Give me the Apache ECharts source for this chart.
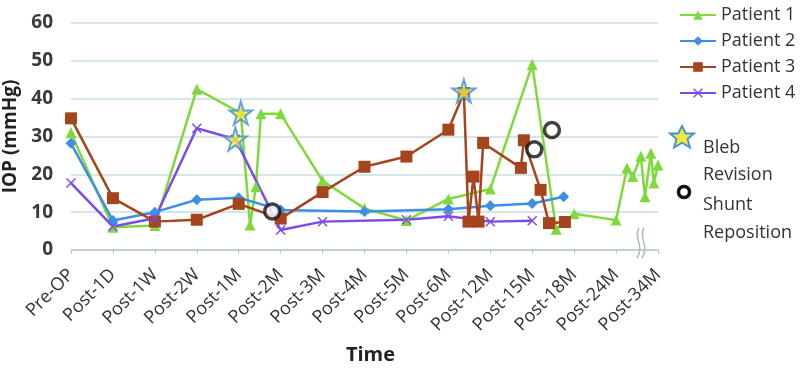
<!DOCTYPE html>
<html>
<head>
<meta charset="utf-8">
<script src="https://cdn.jsdelivr.net/npm/echarts@6/dist/echarts.min.js"></script>
<style>
  html, body { margin: 0; padding: 0; background: #fff; }
  #main { width: 800px; height: 370px; }
</style>
</head>
<body>
<div id="main"></div>
<script>
  // x 눈금 이름 (0 ~ 14 위치)
  var timeLabels = ['Pre-OP', 'Post-1D', 'Post-1W', 'Post-2W', 'Post-1M', 'Post-2M', 'Post-3M',
    'Post-4M', 'Post-5M', 'Post-6M', 'Post-12M', 'Post-15M', 'Post-18M', 'Post-24M', 'Post-34M'];
  var yTicks = [0, 10, 20, 30, 40, 50, 60];

  // 환자별 값
  var p1X = [0, 1, 2, 3, 4.05, 4.27, 4.41, 4.53, 5, 6, 7, 8, 9, 10, 11, 11.57, 12, 13, 13.26, 13.4, 13.59, 13.69, 13.83, 13.9, 14];
  var p1Y = [31, 6, 6.5, 42.5, 36.2, 6.6, 16.7, 36, 36, 18.3, 11, 7.8, 13.5, 16.1, 49, 5.5, 9.6, 7.9, 21.7, 19.4, 24.8, 14.1, 25.6, 17.7, 22.5];

  var p2X = [0, 1, 2, 3, 4, 5, 7, 9, 10, 11, 11.75];
  var p2Y = [28.2, 7.8, 10, 13.3, 13.8, 10.6, 10.2, 10.8, 11.7, 12.3, 14.1];

  var p3X = [0, 1, 2, 3, 4, 5, 6, 7, 8, 9, 9.37, 9.48, 9.6, 9.72, 9.83, 10.73, 10.8, 11.2, 11.4, 11.78];
  var p3Y = [34.8, 13.7, 7.5, 8, 12.2, 8.3, 15.3, 22, 24.7, 31.8, 41.5, 7.5, 19.4, 7.5, 28.3, 21.7, 29, 15.9, 7.1, 7.4];

  var p4X = [0, 1, 2, 3, 3.92, 5, 6, 8, 9, 10, 11];
  var p4Y = [17.7, 6.2, 8.4, 32.2, 29.3, 5.3, 7.5, 8, 8.9, 7.5, 7.7];

  // 표시 지점
  var blebX = [4.05, 3.92, 9.37];
  var blebY = [36.2, 29.3, 42];
  var shuntX = [4.8, 11.05, 11.47];
  var shuntY = [10.2, 26.6, 31.7];

  function pairs(xs, ys) {
    return xs.map(function (x, i) { return [x, ys[i]]; });
  }

  var starPath = 'path://M50,0L61,35L98,35L68,57L79,91L50,70L21,91L32,57L2,35L39,35Z';
  var crossPath = 'path://M0,1L1,0L5,4L9,0L10,1L6,5L10,9L9,10L5,6L1,10L0,9L4,5Z';

  var myChart = echarts.init(document.getElementById('main'));

  var option = {
    animation: false,
    textStyle: { fontFamily: 'Open Sans' },
    grid: { left: 71, right: 142, top: 23, bottom: 120, outerBoundsMode: 'none', containLabel: false },
    legend: {
      orient: 'vertical',
      left: 674,
      top: 1,
      itemWidth: 36,
      itemHeight: 12,
      itemGap: 8,
      textStyle: { fontSize: 18, color: '#333' },
      data: ['Patient 1', 'Patient 2', 'Patient 3', 'Patient 4']
    },
    xAxis: {
      type: 'value',
      min: 0,
      max: 14,
      interval: 1,
      name: 'Time',
      nameLocation: 'middle',
      nameGap: 95,
      nameTextStyle: { fontSize: 20, fontWeight: 'bold', color: '#222', padding: [0, 0, 0, 12] },
      axisLine: { lineStyle: { color: '#b5cccc', width: 1.5 } },
      axisTick: { show: true, length: 4, lineStyle: { color: '#b5cccc' } },
      splitLine: { show: false },
      axisLabel: {
        rotate: 45,
        margin: 22,
        fontSize: 18,
        color: '#333',
        formatter: function (v) { return timeLabels[Math.round(v)]; }
      }
    },
    yAxis: {
      type: 'value',
      min: yTicks[0],
      max: yTicks[yTicks.length - 1],
      interval: 10,
      name: 'IOP (mmHg)',
      nameLocation: 'middle',
      nameGap: 46,
      nameTextStyle: { fontSize: 19, fontWeight: 'bold', color: '#222' },
      axisLine: { show: false },
      axisTick: { show: false },
      axisLabel: { fontSize: 19, fontWeight: 'bold', color: '#3a3a3a', margin: 18 },
      splitLine: { lineStyle: { color: '#c8dcdc', width: 1.5 } }
    },
    series: [
      {
        name: 'Patient 1', type: 'line', data: pairs(p1X, p1Y),
        symbol: 'triangle', symbolSize: 11,
        itemStyle: { color: '#80d93c' }, lineStyle: { width: 2.5 }
      },
      {
        name: 'Patient 2', type: 'line', data: pairs(p2X, p2Y),
        symbol: 'diamond', symbolSize: 11,
        itemStyle: { color: '#3d8fe6' }, lineStyle: { width: 2.5 }
      },
      {
        name: 'Patient 3', type: 'line', data: pairs(p3X, p3Y),
        symbol: 'rect', symbolSize: 12,
        itemStyle: { color: '#a5451d' }, lineStyle: { width: 2.5 }
      },
      {
        name: 'Patient 4', type: 'line', data: pairs(p4X, p4Y),
        symbol: crossPath, symbolSize: 10,
        itemStyle: { color: '#7c4ce6' }, lineStyle: { width: 2.5 }
      },
      {
        name: 'Bleb Revision', type: 'scatter', data: pairs(blebX, blebY),
        symbol: starPath, symbolSize: 23, z: 5,
        itemStyle: { color: '#f2ea3a', borderColor: '#3d8fe6', borderWidth: 2 }
      },
      {
        name: 'Shunt Reposition', type: 'scatter', data: pairs(shuntX, shuntY),
        symbol: 'circle', symbolSize: 15, z: 5,
        itemStyle: { color: '#fff', borderColor: '#111', borderWidth: 3.5 }
      }
    ],
    graphic: [
      // 축 끊김 표시
      { type: 'bezierCurve', z: 10, shape: { x1: 639, y1: 228, x2: 637, y2: 258, cpx1: 633, cpy1: 237, cpx2: 645, cpy2: 246 },
        style: { fill: null, stroke: '#a9c0c0', lineWidth: 1.5 } },
      { type: 'bezierCurve', z: 10, shape: { x1: 644, y1: 228, x2: 642, y2: 258, cpx1: 638, cpy1: 237, cpx2: 650, cpy2: 246 },
        style: { fill: null, stroke: '#a9c0c0', lineWidth: 1.5 } },
      // 범례 (Bleb / Shunt)
      { type: 'polygon', z: 10,
        shape: { points: [[682, 126], [685.8, 133.5], [694, 133.5], [687.5, 139], [690, 147.5], [682, 142.8], [674, 147.5], [676.5, 139], [670, 133.5], [678.2, 133.5]] },
        style: { fill: '#f2ea3a', stroke: '#3d8fe6', lineWidth: 1.8 } },
      { type: 'text', left: 703, top: 134, style: { text: 'Bleb\nRevision', fontSize: 18, lineHeight: 27, fill: '#333', fontFamily: 'Open Sans' } },
      { type: 'circle', z: 10, shape: { cx: 684, cy: 192, r: 5.5 },
        style: { fill: '#fff', stroke: '#111', lineWidth: 3.5 } },
      { type: 'text', left: 703, top: 191, style: { text: 'Shunt\nReposition', fontSize: 18, lineHeight: 28, fill: '#333', fontFamily: 'Open Sans' } }
    ]
  };

  myChart.setOption(option);
</script>
</body>
</html>
